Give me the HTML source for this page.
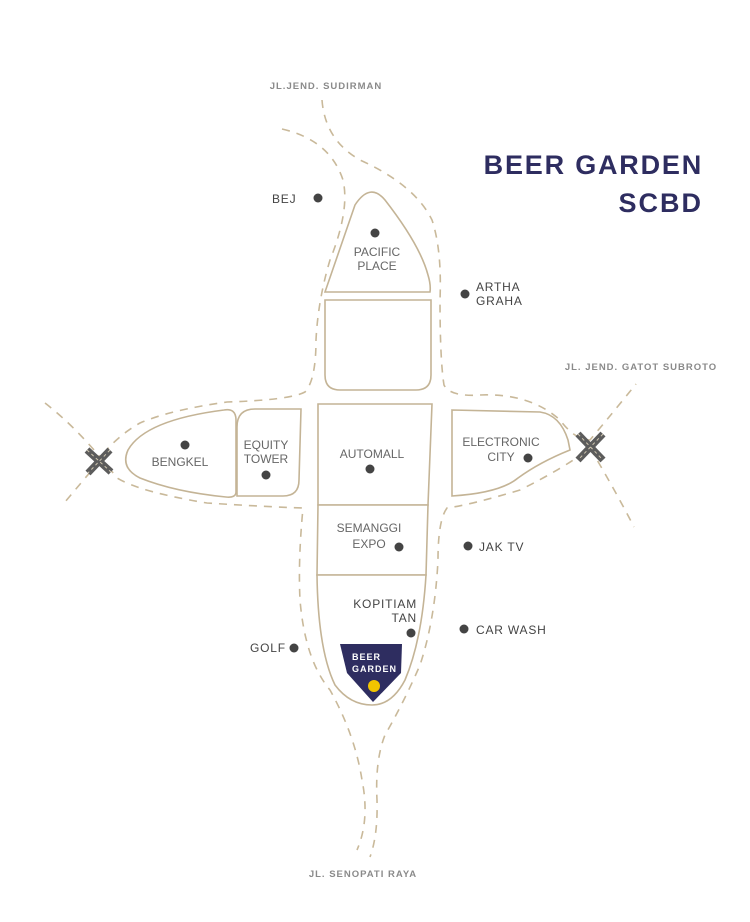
<!DOCTYPE html>
<html><head><meta charset="utf-8"><style>
html,body{margin:0;padding:0;background:#fff;}
svg{display:block;}
text{font-family:"Liberation Sans",sans-serif;}
.road{fill:none;stroke:#c9b99a;stroke-width:1.6;stroke-dasharray:8 7;}
.blk{fill:#fff;stroke:#c4b496;stroke-width:1.6;}
.dot{fill:#444;}
.lbl{fill:#444;font-size:12px;letter-spacing:0.8px;}
.in{fill:#666;font-size:12px;}
.st{fill:#8a8a8a;font-size:9.5px;font-weight:bold;letter-spacing:1px;}
</style></head><body>
<svg width="750" height="922" viewBox="0 0 750 922" xmlns="http://www.w3.org/2000/svg">
<path class="road" d="M282,129 Q330,140 343,180 Q350,210 330,260 Q318,300 316,340 Q316,380 305,392 Q290,400 227,402 Q170,410 140,423 Q110,440 92,470 Q75,490 65,502"/>
<path class="road" d="M322,100 Q325,140 360,160 Q415,185 432,220 Q442,250 440,300 Q440,360 444,385 Q450,397 480,395 Q530,393 560,420 Q575,440 590,440 Q615,410 636,384"/>
<path class="road" d="M45,403 Q80,430 117,478 Q140,492 207,503 Q270,507 303,508 Q298,560 300,600 Q305,660 330,690 Q355,735 362,780 Q370,820 357,850"/>
<path class="road" d="M585,452 Q560,470 520,490 Q470,505 447,508 Q438,520 438,560 Q435,620 420,665 Q405,700 385,735 Q375,760 377,800 Q378,835 370,857"/>
<path class="road" d="M590,448 Q615,490 634,527"/>
<path class="blk" d="M325,292 L355,205 Q370,182 385,200 Q420,245 428,275 Q431,285 430,292 Z"/>
<path class="blk" d="M325,300 L431,300 L431,375 Q431,390 416,390 L340,390 Q325,390 325,375 Z"/>
<path class="blk" d="M318,404 L432,404 L428,505 L318,505 Z"/>
<path class="blk" d="M318,505 L428,505 L426,575 L317,575 Z"/>
<path class="blk" d="M317,575 L426,575 Q422,640 405,680 Q392,705 372,705 Q350,705 335,685 Q318,650 317,575 Z"/>
<path class="blk" d="M224,410 Q236,408 236,420 L236,492 Q236,498 226,497 Q175,492 140,478 Q120,468 128,450 Q145,420 224,410 Z"/>
<path class="blk" d="M255,409 L301,409 L299,480 Q299,496 283,496 L237,496 L237,427 Q237,409 255,409 Z"/>
<path class="blk" d="M452,410 L540,412 Q560,415 568,440 L570,450 Q540,462 518,478 Q500,493 452,496 Z"/>
<g stroke="#5c5c5c" stroke-width="7" stroke-linecap="butt">
<line x1="87" y1="450" x2="111" y2="472"/><line x1="110" y1="450" x2="88" y2="473"/>
<line x1="578" y1="434" x2="603" y2="460"/><line x1="603" y1="434" x2="578" y2="460"/>
</g>
<g stroke="#cfc6b0" stroke-width="1" stroke-dasharray="3 3">
<line x1="87" y1="450" x2="111" y2="472"/><line x1="110" y1="450" x2="88" y2="473"/>
<line x1="578" y1="434" x2="603" y2="460"/><line x1="603" y1="434" x2="578" y2="460"/>
</g>
<polygon points="340,644 402,644 401,673 373,702 347,673" fill="#2e2d60"/>
<circle cx="374" cy="686" r="6" fill="#f2c500"/>
<text x="352" y="660" fill="#fff" font-size="9" font-weight="bold" letter-spacing="1">BEER</text>
<text x="352" y="672" fill="#fff" font-size="9" font-weight="bold" letter-spacing="1">GARDEN</text>
<circle class="dot" cx="318" cy="198" r="4.5"/>
<circle class="dot" cx="375" cy="233" r="4.5"/>
<circle class="dot" cx="465" cy="294" r="4.5"/>
<circle class="dot" cx="185" cy="445" r="4.5"/>
<circle class="dot" cx="266" cy="475" r="4.5"/>
<circle class="dot" cx="370" cy="469" r="4.5"/>
<circle class="dot" cx="528" cy="458" r="4.5"/>
<circle class="dot" cx="399" cy="547" r="4.5"/>
<circle class="dot" cx="468" cy="546" r="4.5"/>
<circle class="dot" cx="411" cy="633" r="4.5"/>
<circle class="dot" cx="464" cy="629" r="4.5"/>
<circle class="dot" cx="294" cy="648" r="4.5"/>
<text class="lbl" x="272" y="203" letter-spacing="3">BEJ</text>
<text class="lbl" x="476" y="291">ARTHA</text>
<text class="lbl" x="476" y="305">GRAHA</text>
<text class="lbl" x="479" y="551">JAK TV</text>
<text class="lbl" x="476" y="634">CAR WASH</text>
<text class="lbl" x="250" y="652">GOLF</text>
<text class="lbl" x="417" y="608" text-anchor="end">KOPITIAM</text>
<text class="lbl" x="417" y="622" text-anchor="end">TAN</text>
<text class="in" x="377" y="256" text-anchor="middle">PACIFIC</text>
<text class="in" x="377" y="270" text-anchor="middle">PLACE</text>
<text class="in" x="180" y="466" text-anchor="middle">BENGKEL</text>
<text class="in" x="266" y="449" text-anchor="middle">EQUITY</text>
<text class="in" x="266" y="463" text-anchor="middle">TOWER</text>
<text class="in" x="372" y="458" text-anchor="middle">AUTOMALL</text>
<text class="in" x="501" y="446" text-anchor="middle">ELECTRONIC</text>
<text class="in" x="501" y="461" text-anchor="middle">CITY</text>
<text class="in" x="369" y="532" text-anchor="middle">SEMANGGI</text>
<text class="in" x="369" y="548" text-anchor="middle">EXPO</text>
<text class="st" x="326" y="89" text-anchor="middle">JL.JEND. SUDIRMAN</text>
<text class="st" x="641" y="370" text-anchor="middle">JL. JEND. GATOT SUBROTO</text>
<text class="st" x="363" y="877" text-anchor="middle">JL. SENOPATI RAYA</text>
<text x="703" y="174" text-anchor="end" fill="#2e2d60" font-size="27" font-weight="bold" letter-spacing="1.8">BEER GARDEN</text>
<text x="703" y="212" text-anchor="end" fill="#2e2d60" font-size="27" font-weight="bold" letter-spacing="2">SCBD</text>
</svg>
</body></html>
